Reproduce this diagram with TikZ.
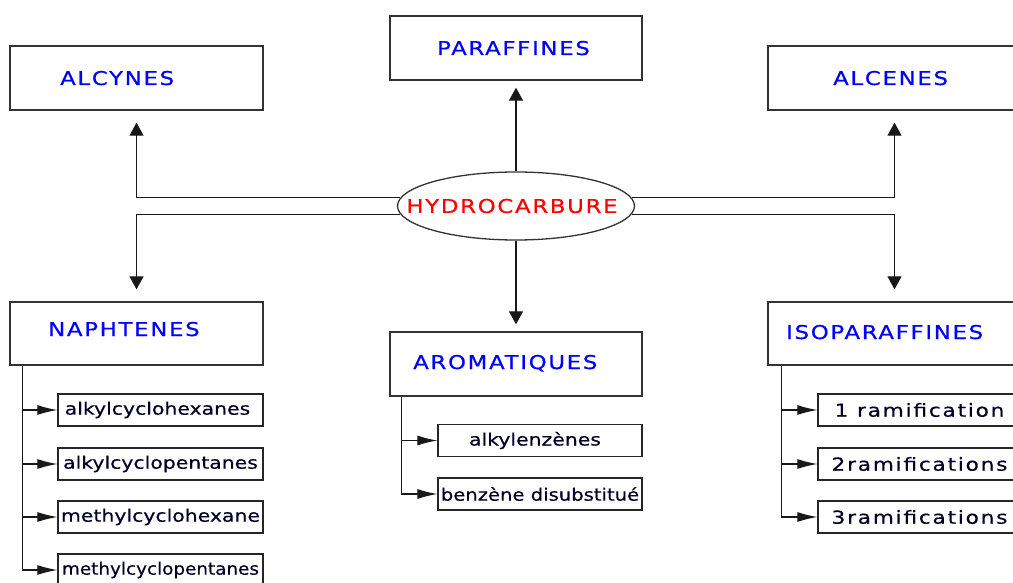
\documentclass[tikz,border=0pt]{standalone}
\usepackage{fontspec}
\usetikzlibrary{shapes.geometric,arrows.meta}
\newfontfamily\hfont{DejaVu Sans}[FakeStretch=1.2,LetterSpace=9,FakeBold=0.6]
\newfontfamily\subfont{DejaVu Sans}[FakeStretch=1.2,FakeBold=0.5]
\newfontfamily\isofont{DejaVu Sans}[FakeStretch=1.2,LetterSpace=10,FakeBold=0.5]
\begin{document}
\begin{tikzpicture}[x=1pt,y=1pt,
 box/.style={draw=black!80, line width=1.3pt, rectangle, inner sep=0pt, minimum width=253pt, minimum height=64pt},
 head/.style={font=\hfont\fontsize{19}{22}\selectfont, text=blue, inner sep=0pt, anchor=base west},
 subbox/.style={draw=black!85, line width=1.3pt, rectangle, minimum height=32pt, inner sep=0pt, font=\subfont\fontsize{17}{20}\selectfont, text=black!85!blue},
 isobox/.style={subbox, minimum width=203pt, font=\isofont\fontsize{18}{20}\selectfont},
 conn/.style={draw=black!90, line width=1.2pt, -{Triangle[length=13pt,width=14pt]}},
 subconn/.style={draw=black!90, line width=1.2pt, -{Latex[length=20pt,width=10pt]}}]
\useasboundingbox (0,0) rectangle (1013,-583);
% central ellipse
\node[ellipse, draw=black!80, line width=1.3pt, minimum width=237pt, minimum height=68pt, inner sep=0pt,
      font=\hfont\fontsize{19}{22}\selectfont, text=red] (hc) at (516,-206) {\makebox[0pt]{\hspace*{-8pt}HYDROCARBURE}};
% main boxes
\node[box, minimum width=252pt] (par) at (516,-48) {};
\node[head] (part) at (437,-55) {PARAFFINES};
\node[box] (alcy) at (136.5,-78) {};
\node[head] (alcyt) at (60,-85) {ALCYNES};
\node[box] (alce) at (894.5,-78) {};
\node[head] (alcet) at (833,-85) {ALCENES};
\node[box, minimum height=63pt] (naph) at (136.5,-333.5) {};
\node[head] (napht) at (48,-336) {NAPHTENES};
\node[box, minimum width=252pt] (arom) at (516,-364) {};
\node[head] (aromt) at (413,-369) {AROMATIQUES};
\node[box, minimum height=63pt] (iso) at (894.5,-333.5) {};
\node[head] (isot) at (786,-339) {ISOPARAFFINES};
% main connectors
\draw[conn, shorten >=7pt] (hc.north) -- (par.south);
\draw[conn, shorten >=7pt] (hc.south) -- (arom.north);
\draw[conn, shorten >=12pt] (hc.176) -| (alcy.south);
\draw[conn, shorten >=12pt] (hc.184) -| (naph.north);
\draw[conn, shorten >=12pt] (hc.4) -| (alce.south);
\draw[conn, shorten >=12pt] (hc.-4) -| (iso.north);
% naphtenes sub boxes
\node[subbox, minimum width=205pt] (n1) at (160.5,-410) {alkylcyclohexanes\hspace*{6pt}};
\node[subbox, minimum width=205pt] (n2) at (160.5,-464) {alkylcyclopentanes};
\node[subbox, minimum width=205pt] (n3) at (160.5,-517) {methylcyclohexane};
\node[subbox, minimum width=205pt] (n4) at (160.5,-570) {\scalebox{0.9}[1]{methylcyclopentanes}};
\foreach \s in {n1,n2,n3,n4}
  \draw[subconn] ([xshift=13pt]naph.south west) |- (\s.west);
% aromatiques sub boxes
\node[subbox, minimum width=204pt] (a1) at (540,-440.5) {alkylenzènes\hspace*{10pt}};
\node[subbox, minimum width=204pt] (a2) at (540,-494) {\scalebox{0.96}[1]{benzène disubstitué}};
\foreach \s in {a1,a2}
  \draw[subconn] ([xshift=12pt]arom.south west) |- (\s.west);
% isoparaffines sub boxes
\node[isobox] (i1) at (919.5,-410) {1 ramification};
\node[isobox] (i2) at (919.5,-464) {2ramifications};
\node[isobox] (i3) at (919.5,-517) {3ramifications};
\foreach \s in {i1,i2,i3}
  \draw[subconn] ([xshift=14pt]iso.south west) |- (\s.west);
\end{tikzpicture}
\end{document}
